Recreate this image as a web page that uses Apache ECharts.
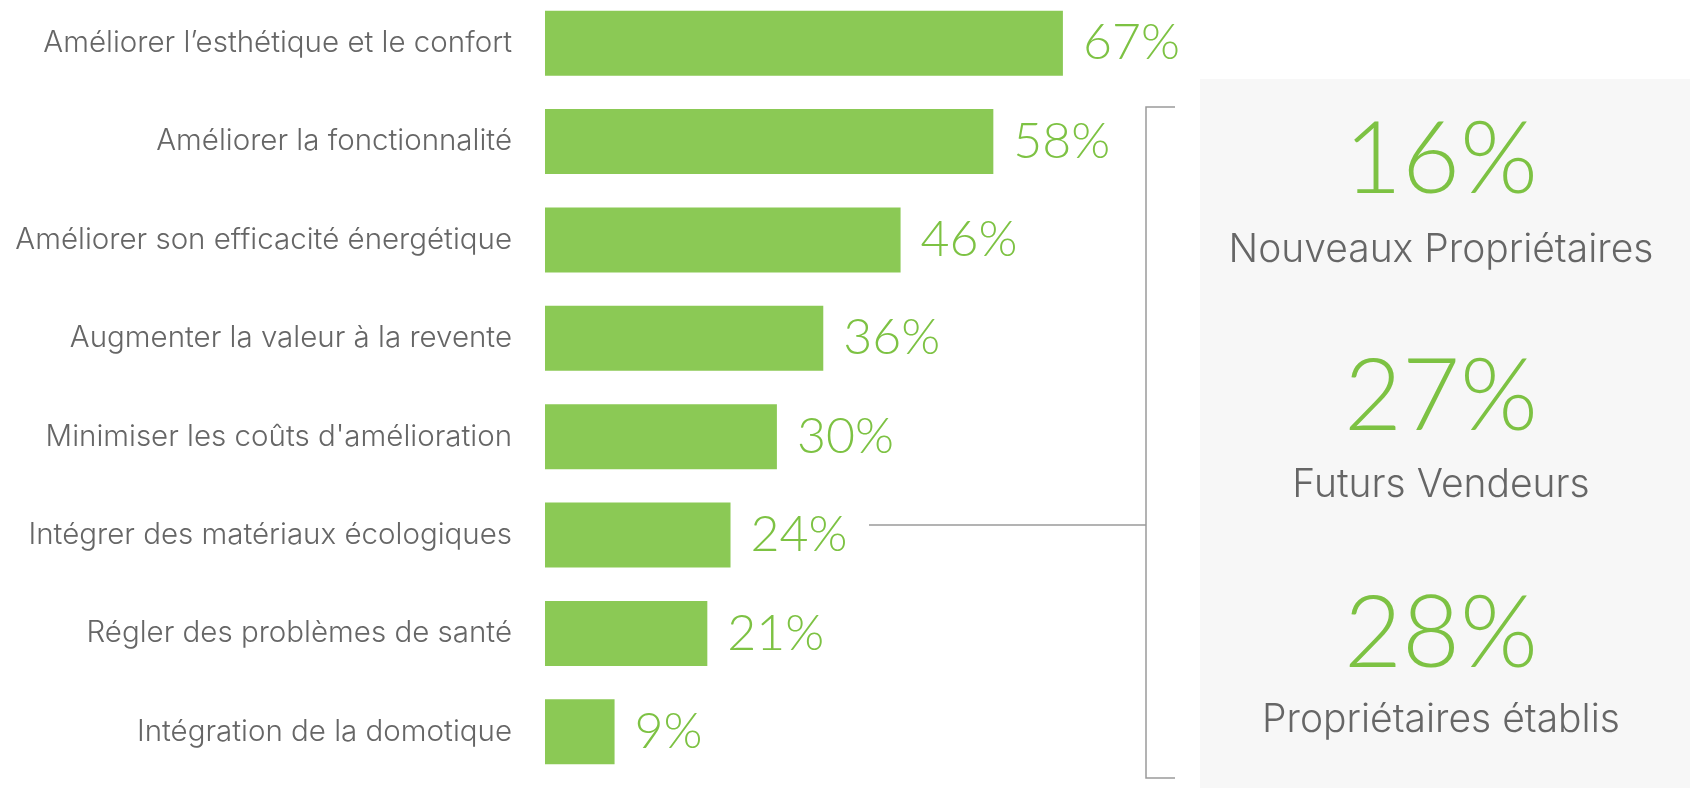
<!DOCTYPE html>
<html>
<head>
<meta charset="utf-8">
<script src="https://cdn.jsdelivr.net/npm/echarts@6/dist/echarts.min.js"></script>
<style>
  html, body { margin: 0; padding: 0; background: #fff; }
  #chart { width: 1690px; height: 788px; }
</style>
</head>
<body>
<div id="chart"></div>
<script>
const categories = [
  "Améliorer l’esthétique et le confort",
  "Améliorer la fonctionnalité",
  "Améliorer son efficacité énergétique",
  "Augmenter la valeur à la revente",
  "Minimiser les coûts d'amélioration",
  "Intégrer des matériaux écologiques",
  "Régler des problèmes de santé",
  "Intégration de la domotique"
];
const values = [67, 58, 46, 36, 30, 24, 21, 9];

// breakdown for "Intégrer des matériaux écologiques"
const groupNames = ["Nouveaux Propriétaires", "Futurs Vendeurs", "Propriétaires établis"];
const groupValues = [16, 27, 28];

const GREEN_BAR = "#8bc955";
const GREEN_TEXT = "#7dc243";
const GREY_TEXT = "#666666";
const NUM_FONT = "Lato";
const TXT_FONT = "Inter";

const chart = echarts.init(document.getElementById("chart"), null, { renderer: "canvas" });

// side panel + bracket
const panelY = [161, 398, 635];
const nameY = [250, 485, 720];
const graphic = [
  { type: "rect", left: 1200, top: 79, shape: { width: 490, height: 709 }, style: { fill: "#f7f7f7" }, z: -1 },
  { type: "polyline", shape: { points: [[1175, 107], [1146, 107], [1146, 778], [1175, 778]] },
    style: { stroke: "#9a9a9a", lineWidth: 1.5, fill: null } },
  { type: "line", shape: { x1: 869, y1: 525, x2: 1146, y2: 525 },
    style: { stroke: "#9a9a9a", lineWidth: 1.5 } }
];
groupValues.forEach((v, i) => {
  graphic.push({
    type: "text", x: 1441, y: panelY[i],
    style: { text: v + "%", fill: GREEN_TEXT, font: "300 100px " + NUM_FONT, align: "center", verticalAlign: "middle" }
  });
  graphic.push({
    type: "text", x: 1441, y: nameY[i],
    style: { text: groupNames[i], fill: GREY_TEXT, font: "300 39px " + TXT_FONT, align: "center", verticalAlign: "middle" }
  });
});

chart.setOption({
  animation: false,
  backgroundColor: "#ffffff",
  grid: { left: 545, top: -6, width: 773, bottom: 7, outerBoundsMode: "none" },
  xAxis: {
    type: "value", min: 0, max: 100, show: false
  },
  yAxis: {
    type: "category", data: categories, inverse: true,
    axisLine: { show: false }, axisTick: { show: false }, splitLine: { show: false },
    axisLabel: { color: GREY_TEXT, fontSize: 29.5, fontFamily: TXT_FONT, fontWeight: 300, margin: 33, align: "right" }
  },
  series: [{
    type: "bar", data: values, barWidth: 65,
    itemStyle: { color: GREEN_BAR },
    label: {
      show: true, position: "right", distance: 20, formatter: "{c}%",
      color: GREEN_TEXT, fontSize: 50, fontFamily: NUM_FONT, fontWeight: 300
    }
  }],
  graphic: graphic
});
</script>
</body>
</html>
